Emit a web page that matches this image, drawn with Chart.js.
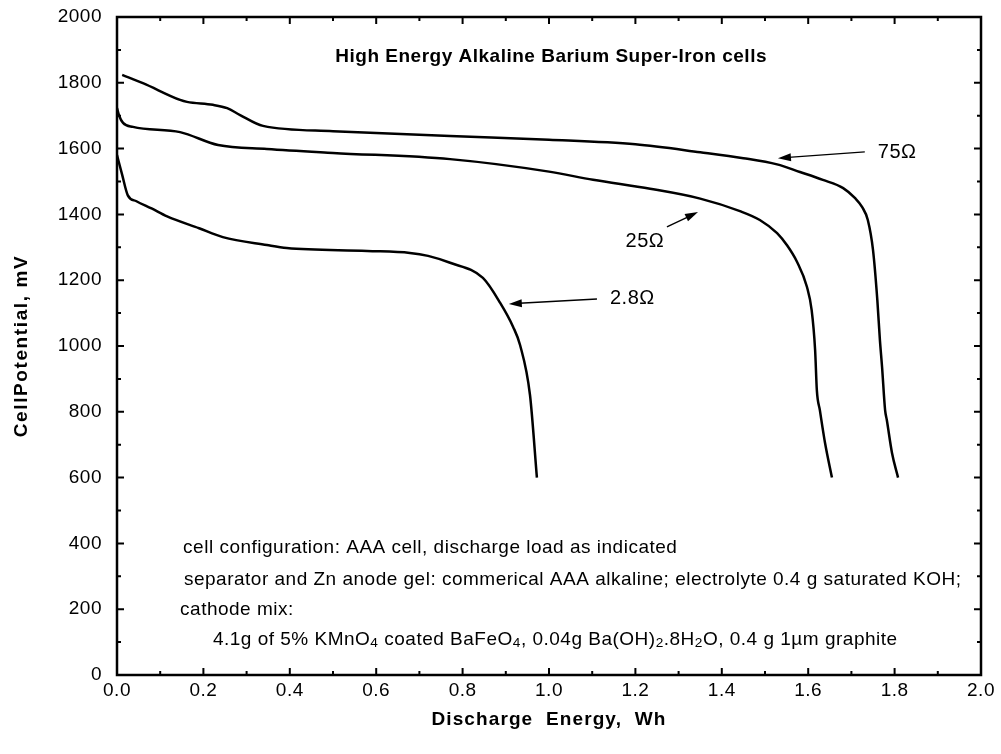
<!DOCTYPE html>
<html><head><meta charset="utf-8">
<script src="https://cdn.jsdelivr.net/npm/chart.js@4/dist/chart.umd.min.js"></script>
<style>html,body{margin:0;padding:0;background:#fff}#wrap{width:1001px;height:754px}</style>
</head><body><div id="wrap"><canvas id="c" width="1001" height="754"></canvas></div>
<script>
// ---- data ----
const energy75 = [0.012,0.060,0.146,0.162,0.222,0.255,0.285,0.338,0.500,0.771,1.000,1.200,1.350,1.450,1.528,1.581,1.634,1.681,1.708,1.725,1.738,1.750,1.760,1.766,1.771,1.778,1.782,1.794,1.808];
const potential75 = [1824,1799,1748,1742,1733,1723,1702,1669,1653,1638,1627,1613,1589,1571,1552,1529,1505,1480,1450,1422,1383,1292,1140,1018,936,805,775,675,600];

const energy25 = [0.000,0.005,0.014,0.037,0.146,0.234,0.347,0.500,0.771,1.000,1.102,1.234,1.350,1.442,1.488,1.528,1.551,1.574,1.597,1.608,1.616,1.620,1.627,1.639,1.655];
const potential25 = [1723,1700,1678,1666,1650,1611,1599,1587,1568,1530,1505,1478,1448,1410,1383,1343,1306,1256,1180,1109,988,866,805,705,600];

const energy28 = [0.000,0.012,0.025,0.045,0.080,0.116,0.190,0.245,0.347,0.393,0.579,0.678,0.720,0.771,0.847,0.887,0.917,0.933,0.956,0.972];
const potential28 = [1580,1520,1458,1440,1418,1394,1358,1331,1307,1298,1289,1283,1274,1253,1207,1131,1058,1003,851,600];

const seriesLabels = ['75Ω','25Ω','2.8Ω'];
const chartTitle = 'High Energy Alkaline Barium Super-Iron cells';
const xAxisTitle = 'Discharge  Energy,  Wh';
const yAxisTitle = 'CellPotential, mV';
const noteLines = [
  'cell configuration: AAA cell, discharge load as indicated',
  'separator and Zn anode gel: commerical AAA alkaline; electrolyte 0.4 g saturated KOH;',
  'cathode mix:',
  '4.1g of 5% KMnO_4 coated BaFeO_4, 0.04g Ba(OH)_2.8H_2O, 0.4 g 1µm graphite'
];

const FONT = '"Liberation Sans", Arial, Helvetica, sans-serif';

function toPoints(xs, ys){ return xs.map((x,i)=>({x:x,y:ys[i]})); }

function drawRich(ctx, str, x, y, size){
  let cx = x;
  for (let i=0;i<str.length;i++){
    let ch = str[i], sub = false;
    if (ch === '_' && i+1 < str.length){ sub = true; ch = str[++i]; }
    const s = sub ? size*0.72 : size;
    ctx.font = s + 'px ' + FONT;
    ctx.textBaseline = 'middle';
    ctx.textAlign = 'left';
    ctx.fillText(ch, cx, sub ? y + size*0.18 : y);
    cx += ctx.measureText(ch).width;
  }
}

function arrow(ctx, x1, y1, x2, y2){
  const ang = Math.atan2(y2-y1, x2-x1);
  const L = 13, W = 4;
  ctx.beginPath();
  ctx.moveTo(x1,y1);
  ctx.lineTo(x2 - Math.cos(ang)*L*0.8, y2 - Math.sin(ang)*L*0.8);
  ctx.lineWidth = 1.4; ctx.strokeStyle = '#000'; ctx.stroke();
  ctx.beginPath();
  ctx.moveTo(x2,y2);
  ctx.lineTo(x2 - Math.cos(ang)*L + Math.sin(ang)*W, y2 - Math.sin(ang)*L - Math.cos(ang)*W);
  ctx.lineTo(x2 - Math.cos(ang)*L - Math.sin(ang)*W, y2 - Math.sin(ang)*L + Math.cos(ang)*W);
  ctx.closePath(); ctx.fillStyle = '#000'; ctx.fill();
}

const framePlugin = {
  id: 'frame',
  afterDatasetsDraw(chart){
    const ctx = chart.ctx, a = chart.chartArea;
    const xs = chart.scales.x, ys = chart.scales.y;
    ctx.save();
    ctx.strokeStyle = '#000';
    ctx.lineWidth = 2.5;
    ctx.strokeRect(a.left, a.top, a.right - a.left, a.bottom - a.top);
    ctx.lineWidth = 2;
    // inward ticks, major + minor, on all four sides
    for (let i=0;i<=20;i++){
      const v = i/10, px = xs.getPixelForValue(v), len = (i%2===0)?7:4;
      ctx.beginPath();
      ctx.moveTo(px, a.bottom); ctx.lineTo(px, a.bottom - len);
      ctx.moveTo(px, a.top); ctx.lineTo(px, a.top + len);
      ctx.stroke();
    }
    for (let i=0;i<=20;i++){
      const v = i*100, py = ys.getPixelForValue(v), len = (i%2===0)?7:4;
      ctx.beginPath();
      ctx.moveTo(a.left, py); ctx.lineTo(a.left + len, py);
      ctx.moveTo(a.right, py); ctx.lineTo(a.right - len, py);
      ctx.stroke();
    }
    ctx.fillStyle = '#000';
    ctx.letterSpacing = '0.5px';
    // tick labels from the library's own tick lists
    ctx.font = '19px ' + FONT;
    ctx.textAlign = 'center'; ctx.textBaseline = 'middle';
    xs.ticks.forEach(t => ctx.fillText(Number(t.value).toFixed(1), xs.getPixelForValue(t.value), a.bottom + 16));
    ctx.textAlign = 'right';
    ys.ticks.forEach(t => ctx.fillText(String(t.value), a.left - 15, ys.getPixelForValue(t.value)));
    // axis titles
    ctx.font = 'bold 19px ' + FONT;
    ctx.textAlign = 'center';
    ctx.letterSpacing = '1.1px';
    ctx.fillText(xAxisTitle, (a.left + a.right)/2, a.bottom + 45);
    ctx.save();
    ctx.translate(22, (a.top + a.bottom)/2);
    ctx.rotate(-Math.PI/2);
    ctx.letterSpacing = '1.6px';
    ctx.fillText(yAxisTitle, 0, 0);
    ctx.restore();
    // chart title
    ctx.letterSpacing = '0.5px';
    ctx.font = 'bold 19px ' + FONT;
    ctx.textAlign = 'center';
    ctx.fillText(chartTitle, xs.getPixelForValue(1.005), ys.getPixelForValue(1878));
    // series labels + arrows
    ctx.font = '20px ' + FONT;
    ctx.fillText(seriesLabels[0], xs.getPixelForValue(1.806), ys.getPixelForValue(1587));
    ctx.fillText(seriesLabels[1], xs.getPixelForValue(1.222), ys.getPixelForValue(1319));
    ctx.fillText(seriesLabels[2], xs.getPixelForValue(1.193), ys.getPixelForValue(1143));
    ctx.letterSpacing = '0px';
    arrow(ctx, xs.getPixelForValue(1.731), ys.getPixelForValue(1590), xs.getPixelForValue(1.530), ys.getPixelForValue(1571));
    arrow(ctx, xs.getPixelForValue(1.273), ys.getPixelForValue(1362), xs.getPixelForValue(1.345), ys.getPixelForValue(1407));
    arrow(ctx, xs.getPixelForValue(1.111), ys.getPixelForValue(1143), xs.getPixelForValue(0.907), ys.getPixelForValue(1128));
    // notes
    ctx.letterSpacing = '0.5px';
    const noteX = [0.153, 0.155, 0.146, 0.222];
    const noteY = [386, 289, 198, 106];
    noteLines.forEach((t,i)=>{
      drawRich(ctx, t, xs.getPixelForValue(noteX[i]), ys.getPixelForValue(noteY[i]), 19);
    });
    ctx.restore();
  }
};

const lineStyle = {borderColor:'#000', borderWidth:2.5, pointRadius:0, fill:false, cubicInterpolationMode:'monotone', borderJoinStyle:'round'};

new Chart(document.getElementById('c'), {
  type: 'line',
  data: {
    datasets: [
      Object.assign({label: seriesLabels[0], data: toPoints(energy75, potential75)}, lineStyle),
      Object.assign({label: seriesLabels[1], data: toPoints(energy25, potential25)}, lineStyle),
      Object.assign({label: seriesLabels[2], data: toPoints(energy28, potential28)}, lineStyle)
    ]
  },
  options: {
    responsive: false,
    animation: false,
    devicePixelRatio: 1,
    layout: {padding: {left: 0, right: 20, top: 17, bottom: 0}},
    plugins: {legend: {display:false}, tooltip: {enabled:false}, title: {display:false}},
    scales: {
      x: {
        type: 'linear', min: 0, max: 2, position: 'bottom',
        grid: {display:false, drawTicks:false},
        border: {display:false},
        ticks: {display:false, stepSize: 0.2},
        afterFit: s => { s.height = 79; }
      },
      y: {
        type: 'linear', min: 0, max: 2000, position: 'left',
        grid: {display:false, drawTicks:false},
        border: {display:false},
        ticks: {display:false, stepSize: 200},
        afterFit: s => { s.width = 117; }
      }
    }
  },
  plugins: [framePlugin]
});
</script></body></html>
